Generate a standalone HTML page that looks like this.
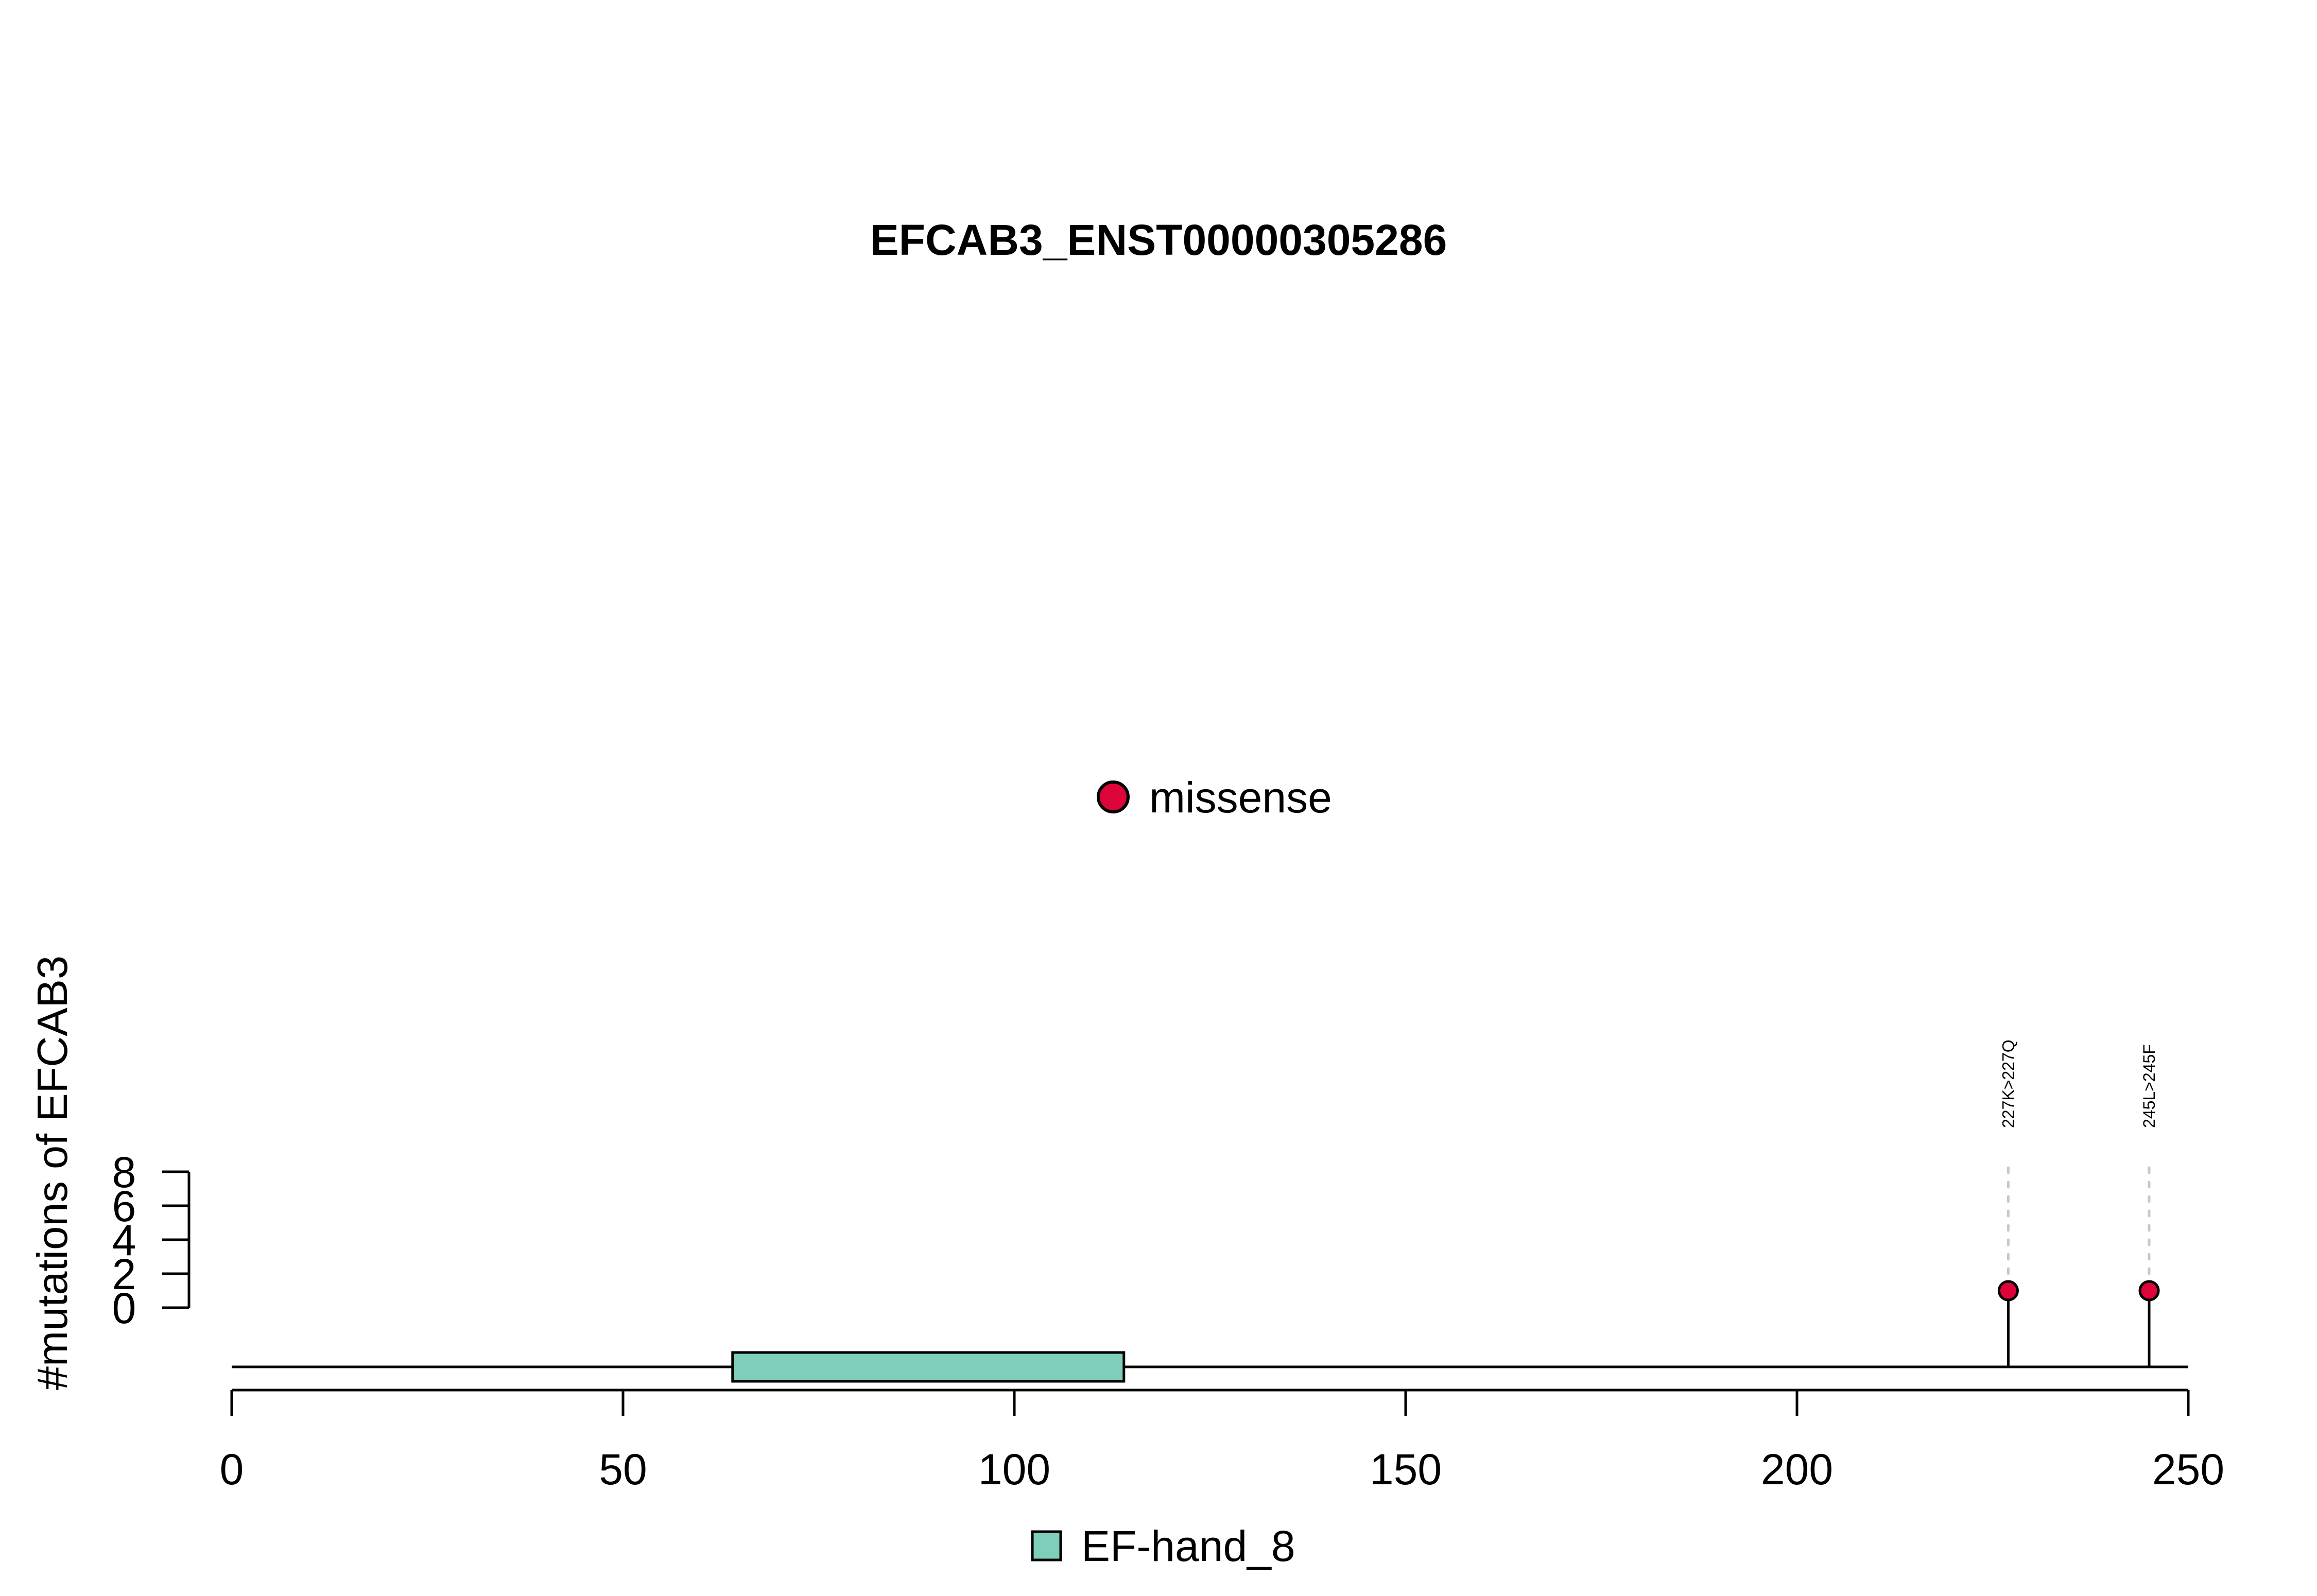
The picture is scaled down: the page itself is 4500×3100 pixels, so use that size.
<!DOCTYPE html>
<html><head><meta charset="utf-8"><style>
html,body{margin:0;padding:0;background:#fff;}
svg{display:block;font-family:"Liberation Sans",Arial,sans-serif;}
</style></head><body>
<svg id="chart" xmlns="http://www.w3.org/2000/svg" width="4500" height="3100" viewBox="0 0 4500 3100">
<rect width="4500" height="3100" fill="#fff"/>
<text x="2250" y="495" font-size="84" font-weight="bold" text-anchor="middle">EFCAB3_ENST00000305286</text>
<g>
<circle cx="2162" cy="1548" r="29" fill="#DC0439" stroke="#000" stroke-width="6"/>
<text x="2232" y="1578" font-size="84">missense</text>
</g>
<text transform="translate(130,2278) rotate(-90)" font-size="83" text-anchor="middle">#mutations of EFCAB3</text>
<g id="yaxis"></g>
<g id="xaxis"></g>
<g id="marks"></g>
<g>
<rect x="2005" y="2975" width="55" height="55" fill="#7FCDBB" stroke="#000" stroke-width="5"/>
<text x="2100" y="3032" font-size="84">EF-hand_8</text>
</g>
</svg>
<script>
const xTicks = [0, 50, 100, 150, 200, 250];
const yTicks = [0, 2, 4, 6, 8];
const proteinLength = 250;
const domainNames = ["EF-hand_8"];
const domainStarts = [64];
const domainEnds = [114];
const mutPositions = [227, 245];
const mutCounts = [1, 1];
const mutLabels = ["227K>227Q", "245L>245F"];

const NS = "http://www.w3.org/2000/svg";
const X0 = 450, XS = 15.2;
const Y0 = 2540, YS = 33;
const xs = v => X0 + v * XS;
const ys = v => Y0 - v * YS;
function mk(tag, attrs, parent, txt) {
  const e = document.createElementNS(NS, tag);
  for (const k in attrs) e.setAttribute(k, attrs[k]);
  if (txt !== undefined) e.textContent = txt;
  parent.appendChild(e);
  return e;
}
const yax = document.getElementById('yaxis');
const yl = mk('line', {x1: 367, x2: 367, y1: ys(yTicks[0]), y2: ys(yTicks[yTicks.length-1]), stroke: '#000', 'stroke-width': 5}, yax);


yTicks.forEach(t => {
  const tk = mk('line', {x1: 315, x2: 367, y1: ys(t), y2: ys(t), stroke: '#000', 'stroke-width': 5}, yax);
  
  
  const lb = mk('text', {x: 241, y: ys(t) + 30, 'font-size': 84, 'text-anchor': 'middle'}, yax, String(t));
  
  
});
const xax = document.getElementById('xaxis');
const xl = mk('line', {x1: xs(xTicks[0]), x2: xs(xTicks[xTicks.length-1]), y1: 2700, y2: 2700, stroke: '#000', 'stroke-width': 5}, xax);


xTicks.forEach(t => {
  const tk = mk('line', {x1: xs(t), x2: xs(t), y1: 2700, y2: 2750, stroke: '#000', 'stroke-width': 5}, xax);
  
  
  const lb = mk('text', {x: xs(t), y: 2883, 'font-size': 84, 'text-anchor': 'middle'}, xax, String(t));
  
  
});
const marks = document.getElementById('marks');
const bb = mk('line', {x1: xs(0), x2: xs(proteinLength), y1: 2655, y2: 2655, stroke: '#000', 'stroke-width': 5}, marks);


domainNames.forEach((n, i) => {
  const r = mk('rect', {x: xs(domainStarts[i]), y: 2627, width: xs(domainEnds[i]) - xs(domainStarts[i]), height: 56, fill: '#7FCDBB', stroke: '#000', 'stroke-width': 5}, marks);
  
  
});
mutPositions.forEach((p, i) => {
  const x = xs(p), y = ys(mutCounts[i]);
  const dl = mk('line', {x1: x, x2: x, y1: 2268, y2: y, stroke: '#c8c8c8', 'stroke-width': 5, 'stroke-dasharray': '10 18', 'stroke-linecap': 'round'}, marks);
  
  
  const st = mk('line', {x1: x, x2: x, y1: 2655, y2: y, stroke: '#000', 'stroke-width': 5}, marks);
  
  
  const c = mk('circle', {cx: x, cy: y, r: 18, fill: '#DC0439', stroke: '#000', 'stroke-width': 5}, marks);
  
  
  const t = mk('text', {transform: `translate(${x + 11},2191) rotate(-90)`, 'font-size': 32}, marks, mutLabels[i]);
  
  
});
</script>
</body></html>
